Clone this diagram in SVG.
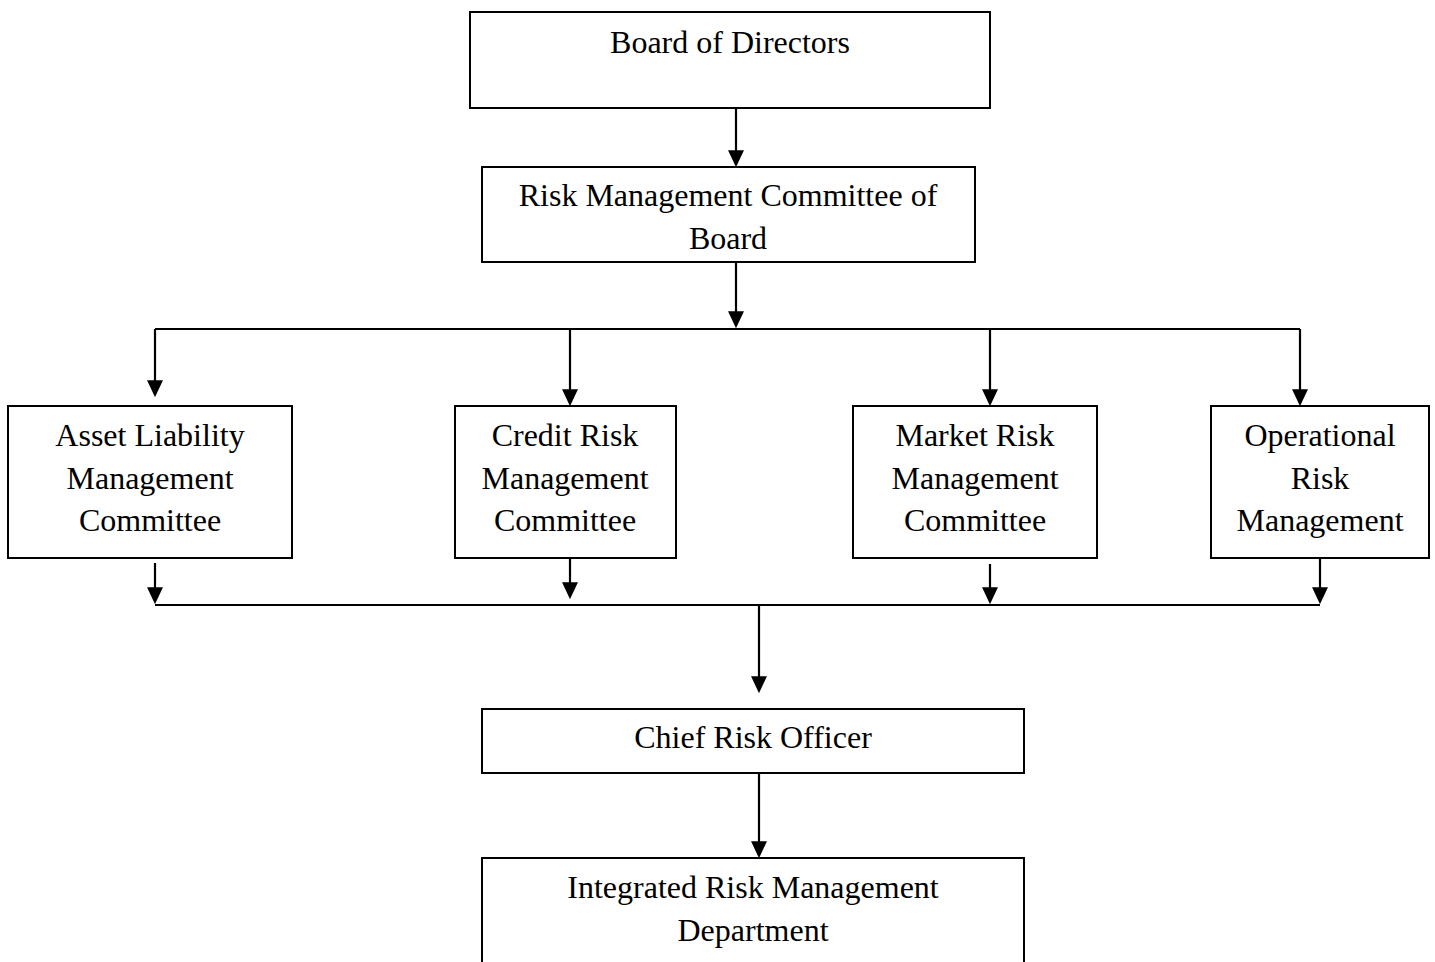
<svg xmlns="http://www.w3.org/2000/svg" width="1435" height="962" viewBox="0 0 1435 962">
<defs>
<style>
.box{fill:#fff;stroke:#000;stroke-width:2}
.t{font-family:"Liberation Serif","Times New Roman",serif;font-size:32px;fill:#000;text-anchor:middle}
.c{fill:none;stroke:#000;stroke-width:2.2}
</style>
<marker id="ah" markerUnits="userSpaceOnUse" markerWidth="17" markerHeight="16" refX="13" refY="7.5" orient="auto" viewBox="0 0 16 15">
<path d="M0,0 L16,7.5 L0,15 z" fill="#000"/>
</marker>
</defs>
<rect width="1435" height="962" fill="#fff"/>
<g id="connectors">
<line class="c" x1="736" y1="108" x2="736" y2="164" marker-end="url(#ah)"/>
<line class="c" x1="736" y1="262" x2="736" y2="325" marker-end="url(#ah)"/>
<polyline class="c" points="155,329 1300,329"/>
<line class="c" x1="155" y1="329" x2="155" y2="394" marker-end="url(#ah)"/>
<line class="c" x1="570" y1="329" x2="570" y2="403" marker-end="url(#ah)"/>
<line class="c" x1="990" y1="329" x2="990" y2="403" marker-end="url(#ah)"/>
<line class="c" x1="1300" y1="329" x2="1300" y2="403" marker-end="url(#ah)"/>
<line class="c" x1="155" y1="563" x2="155" y2="601" marker-end="url(#ah)"/>
<line class="c" x1="570" y1="559" x2="570" y2="596" marker-end="url(#ah)"/>
<line class="c" x1="990" y1="564" x2="990" y2="601" marker-end="url(#ah)"/>
<line class="c" x1="1320" y1="559" x2="1320" y2="601" marker-end="url(#ah)"/>
<polyline class="c" points="155,605 1320,605"/>
<line class="c" x1="759" y1="605" x2="759" y2="690" marker-end="url(#ah)"/>
<line class="c" x1="759" y1="773" x2="759" y2="855" marker-end="url(#ah)"/>
</g>
<g id="board">
<rect class="box" x="470" y="12" width="520" height="96"/>
<text class="t" x="730" y="53">Board of Directors</text>
</g>
<g id="rmc">
<rect class="box" x="482" y="167" width="493" height="95"/>
<text class="t" x="728" y="206">Risk Management Committee of</text>
<text class="t" x="728" y="249">Board</text>
</g>
<g id="alm">
<rect class="box" x="8" y="406" width="284" height="152"/>
<text class="t" x="150" y="446">Asset Liability</text>
<text class="t" x="150" y="489">Management</text>
<text class="t" x="150" y="531">Committee</text>
</g>
<g id="crm">
<rect class="box" x="455" y="406" width="221" height="152"/>
<text class="t" x="565" y="446">Credit Risk</text>
<text class="t" x="565" y="489">Management</text>
<text class="t" x="565" y="531">Committee</text>
</g>
<g id="mrm">
<rect class="box" x="853" y="406" width="244" height="152"/>
<text class="t" x="975" y="446">Market Risk</text>
<text class="t" x="975" y="489">Management</text>
<text class="t" x="975" y="531">Committee</text>
</g>
<g id="orm">
<rect class="box" x="1211" y="406" width="218" height="152"/>
<text class="t" x="1320" y="446">Operational</text>
<text class="t" x="1320" y="489">Risk</text>
<text class="t" x="1320" y="531">Management</text>
</g>
<g id="cro">
<rect class="box" x="482" y="709" width="542" height="64"/>
<text class="t" x="753" y="748">Chief Risk Officer</text>
</g>
<g id="irmd">
<rect class="box" x="482" y="858" width="542" height="120"/>
<text class="t" x="753" y="898">Integrated Risk Management</text>
<text class="t" x="753" y="941">Department</text>
</g>
</svg>
